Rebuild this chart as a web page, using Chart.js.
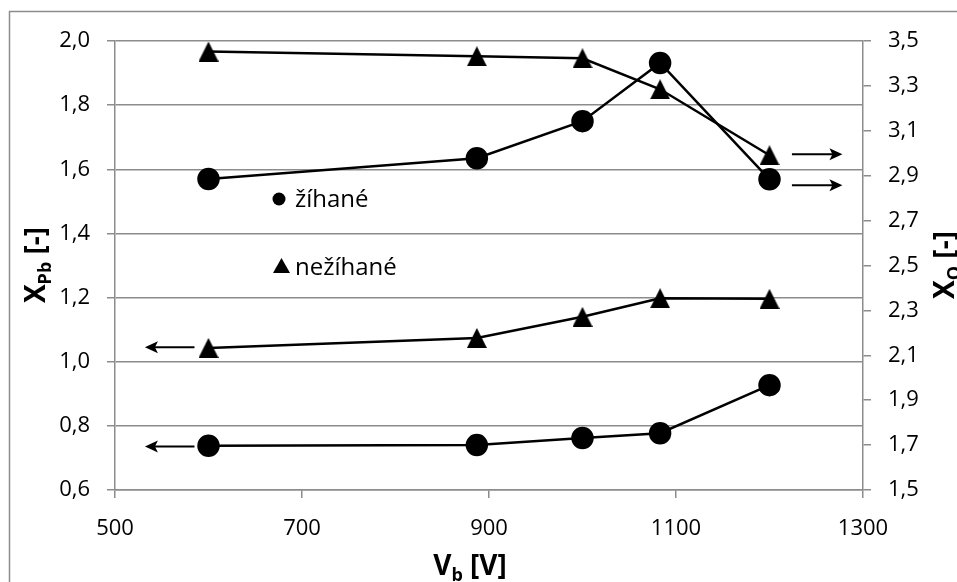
<!DOCTYPE html>
<html>
<head>
<meta charset="utf-8">
<script src="https://cdn.jsdelivr.net/npm/chart.js@4"></script>
<style>
  html, body { margin: 0; padding: 0; background: #fff; }
  #wrap { width: 957px; height: 582px; }
</style>
</head>
<body>
<div id="wrap"><canvas id="chart"></canvas></div>
<script>
// napětí V_b [V]
const vb = [600, 887, 1000, 1083, 1200];

// X_Pb (levá osa)
const xpbAnnealed = [0.738, 0.740, 0.762, 0.777, 0.927];
const xpbRaw = [1.043, 1.074, 1.140, 1.198, 1.196];

// X_O (pravá osa)
const xoAnnealed = [2.885, 2.978, 3.143, 3.402, 2.884];
const xoRaw = [3.453, 3.432, 3.423, 3.285, 2.991];

const xTicks = [500, 700, 900, 1100, 1300];
const yLeftRange = [0.6, 2.0];
const yRightRange = [1.5, 3.5];

// šipky ukazující příslušnou osu (datové souřadnice)
const arrows = [
  { from: 585, to: 532, y: 1.045, axis: 'y' },
  { from: 585, to: 532, y: 0.736, axis: 'y' },
  { from: 1224, to: 1278, y: 2.996, axis: 'y2' },
  { from: 1224, to: 1278, y: 2.858, axis: 'y2' }
];

const FONT = "'Open Sans', 'DejaVu Sans', sans-serif";
const GRID = '#8c8c8c';

function makeTriangle(size) {
  const c = document.createElement('canvas');
  c.width = size;
  c.height = size;
  const g = c.getContext('2d');
  g.fillStyle = '#000';
  g.beginPath();
  g.moveTo(size / 2, 0);
  g.lineTo(size, size);
  g.lineTo(0, size);
  g.closePath();
  g.fill();
  return c;
}
const triangle = makeTriangle(20);

const comma = v => v.toFixed(1).replace('.', ',');

function drawTitle(ctx, parts, cx, cy, rot) {
  ctx.save();
  ctx.translate(cx, cy);
  ctx.rotate(rot);
  ctx.fillStyle = '#000';
  ctx.textBaseline = 'alphabetic';
  let w = 0;
  parts.forEach(p => {
    ctx.font = (p.sub ? 'bold 18px ' : 'bold 28px ') + FONT;
    p.w = ctx.measureText(p.t).width;
    w += p.w;
  });
  let x = -w / 2;
  parts.forEach(p => {
    ctx.font = (p.sub ? 'bold 18px ' : 'bold 28px ') + FONT;
    ctx.fillText(p.t, x, p.sub ? 16 : 10);
    x += p.w;
  });
  ctx.restore();
}

const decor = {
  id: 'decor',
  beforeDraw(chart) {
    const ctx = chart.ctx;
    ctx.save();
    ctx.strokeStyle = GRID;
    ctx.lineWidth = 1.5;
    ctx.strokeRect(9.5, 11.5, 1100, 1100);
    ctx.restore();
  },
  afterDatasetsDraw(chart) {
    const ctx = chart.ctx;
    const xs = chart.scales.x;
    ctx.save();
    ctx.strokeStyle = '#000';
    ctx.fillStyle = '#000';
    ctx.lineWidth = 2;
    arrows.forEach(a => {
      const ys = chart.scales[a.axis];
      const x0 = xs.getPixelForValue(a.from);
      const x1 = xs.getPixelForValue(a.to);
      const y = ys.getPixelForValue(a.y);
      const dir = Math.sign(x1 - x0);
      ctx.beginPath();
      ctx.moveTo(x0, y);
      ctx.lineTo(x1 - dir * 8, y);
      ctx.stroke();
      ctx.beginPath();
      ctx.moveTo(x1, y);
      ctx.lineTo(x1 - dir * 13, y - 6);
      ctx.lineTo(x1 - dir * 10, y);
      ctx.lineTo(x1 - dir * 13, y + 6);
      ctx.closePath();
      ctx.fill();
    });

    // popisky řad
    ctx.font = '24px ' + FONT;
    ctx.textBaseline = 'alphabetic';
    ctx.beginPath();
    ctx.arc(279, 199, 6.5, 0, Math.PI * 2);
    ctx.fill();
    ctx.fillText('žíhané', 295, 207);
    ctx.beginPath();
    ctx.moveTo(281.5, 258);
    ctx.lineTo(290, 273);
    ctx.lineTo(273, 273);
    ctx.closePath();
    ctx.fill();
    ctx.fillText('nežíhané', 295, 275);
    ctx.restore();

    drawTitle(ctx, [{ t: 'X' }, { t: 'Pb', sub: true }, { t: ' [-]' }], 35, 265, -Math.PI / 2);
    drawTitle(ctx, [{ t: 'V' }, { t: 'b', sub: true }, { t: ' [V]' }], 470, 565, 0);
    drawTitle(ctx, [{ t: 'X' }, { t: 'O', sub: true }, { t: ' [-]' }], 944, 265, -Math.PI / 2);
  }
};

function series(ys, axis, style) {
  return {
    data: vb.map((x, i) => ({ x: x, y: ys[i] })),
    yAxisID: axis,
    borderColor: '#000',
    backgroundColor: '#000',
    borderWidth: 2.5,
    pointStyle: style,
    pointRadius: 10,
    pointHoverRadius: 10,
    tension: 0
  };
}

const tickFont = { family: FONT, size: 22 };

new Chart(document.getElementById('chart'), {
  type: 'line',
  data: {
    datasets: [
      series(xpbAnnealed, 'y', 'circle'),
      series(xpbRaw, 'y', triangle),
      series(xoAnnealed, 'y2', 'circle'),
      series(xoRaw, 'y2', triangle)
    ]
  },
  options: {
    responsive: true,
    maintainAspectRatio: false,
    animation: false,
    events: [],
    layout: { padding: { top: 41, left: 0, right: 0, bottom: 0 } },
    plugins: { legend: { display: false }, tooltip: { enabled: false } },
    scales: {
      x: {
        type: 'linear',
        min: xTicks[0],
        max: xTicks[xTicks.length - 1],
        afterBuildTicks: s => { s.ticks = xTicks.map(v => ({ value: v })); },
        afterFit: s => { s.height = 92; },
        ticks: { color: '#000', font: tickFont, padding: 18, maxRotation: 0, callback: v => String(v) },
        grid: { drawOnChartArea: false, color: GRID, tickLength: 8, lineWidth: 1.5 },
        border: { color: GRID, width: 1.5 }
      },
      y: {
        position: 'left',
        min: yLeftRange[0],
        max: yLeftRange[1],
        afterFit: s => { s.width = 115; },
        ticks: { stepSize: 0.2, color: '#000', font: tickFont, padding: 17, callback: comma },
        grid: { color: GRID, tickLength: 8, lineWidth: 1.5 },
        border: { color: GRID, width: 1.5 }
      },
      y2: {
        position: 'right',
        min: yRightRange[0],
        max: yRightRange[1],
        afterFit: s => { s.width = 94; },
        ticks: { stepSize: 0.2, color: '#000', font: tickFont, padding: 17, callback: comma },
        grid: { drawOnChartArea: false, color: GRID, tickLength: 8, lineWidth: 1.5 },
        border: { color: GRID, width: 1.5 }
      }
    }
  },
  plugins: [decor]
});
</script>
</body>
</html>
